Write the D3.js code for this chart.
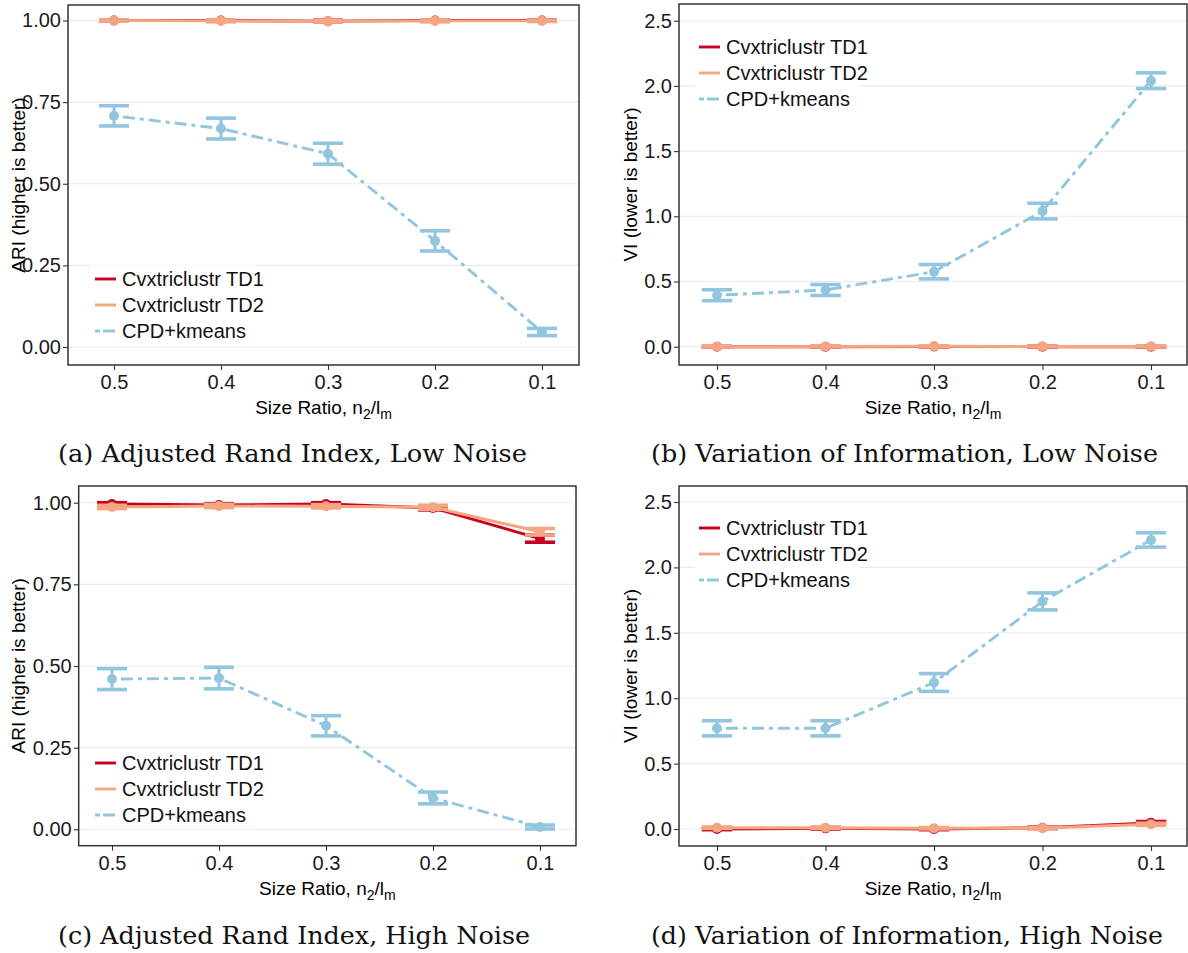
<!DOCTYPE html>
<html><head><meta charset="utf-8">
<script src="https://cdn.jsdelivr.net/npm/d3@7"></script>
<style>body{margin:0;background:#fff} svg{display:block}</style>
</head><body>
<svg id="chart" width="1188" height="953"></svg>
<script>
// ---------- data ----------
const sizeRatios = [0.5, 0.4, 0.3, 0.2, 0.1];
const xTickLabels = ["0.5", "0.4", "0.3", "0.2", "0.1"];
const seriesNames = ["Cvxtriclustr TD1", "Cvxtriclustr TD2", "CPD+kmeans"];
const seriesColors = ["#CA0020", "#F4A582", "#92C5DE"];

const ariTicks = [0, 0.25, 0.5, 0.75, 1.0];
const ariTickLabels = ["0.00", "0.25", "0.50", "0.75", "1.00"];
const viTicks = [0, 0.5, 1.0, 1.5, 2.0, 2.5];
const viTickLabels = ["0.0", "0.5", "1.0", "1.5", "2.0", "2.5"];

// (a) ARI, low noise : means and half-widths of error bars
const ariLowTD1 = [1.000, 1.000, 0.998, 1.000, 1.000];
const ariLowTD1Err = [0.001, 0.001, 0.003, 0.002, 0.001];
const ariLowTD2 = [1.000, 0.999, 0.998, 0.999, 0.999];
const ariLowTD2Err = [0.002, 0.003, 0.003, 0.003, 0.002];
const ariLowCPD = [0.708, 0.669, 0.592, 0.325, 0.046];
const ariLowCPDErr = [0.031, 0.032, 0.032, 0.031, 0.011];

// (b) VI, low noise
const viLowTD1 = [0.000, 0.000, 0.002, 0.000, 0.000];
const viLowTD1Err = [0.002, 0.002, 0.004, 0.003, 0.002];
const viLowTD2 = [0.000, 0.001, 0.003, 0.001, 0.001];
const viLowTD2Err = [0.003, 0.003, 0.004, 0.003, 0.003];
const viLowCPD = [0.395, 0.435, 0.575, 1.040, 2.040];
const viLowCPDErr = [0.042, 0.042, 0.055, 0.060, 0.060];

// (c) ARI, high noise
const ariHighTD1 = [0.996, 0.993, 0.996, 0.984, 0.890];
const ariHighTD1Err = [0.004, 0.004, 0.004, 0.006, 0.011];
const ariHighTD2 = [0.987, 0.990, 0.989, 0.986, 0.911];
const ariHighTD2Err = [0.005, 0.005, 0.005, 0.006, 0.010];
const ariHighCPD = [0.460, 0.463, 0.317, 0.096, 0.007];
const ariHighCPDErr = [0.032, 0.033, 0.031, 0.018, 0.006];

// (d) VI, high noise
const viHighTD1 = [0.000, 0.005, 0.000, 0.010, 0.047];
const viHighTD1Err = [0.005, 0.005, 0.005, 0.006, 0.010];
const viHighTD2 = [0.010, 0.010, 0.006, 0.008, 0.036];
const viHighTD2Err = [0.005, 0.005, 0.005, 0.006, 0.008];
const viHighCPD = [0.770, 0.770, 1.120, 1.740, 2.210];
const viHighCPDErr = [0.058, 0.058, 0.068, 0.065, 0.055];

const captions = [
  "(a) Adjusted Rand Index, Low Noise",
  "(b) Variation of Information, Low Noise",
  "(c) Adjusted Rand Index, High Noise",
  "(d) Variation of Information, High Noise"
];
const ariTitle = "ARI (higher is better)";
const viTitle = "VI (lower is better)";

// ---------- layout ----------
const svg = d3.select("#chart");
const SANS = "'Liberation Sans', Arial, Helvetica, sans-serif";
const SERIF = "'DejaVu Serif', serif";

const panels = [
  { box: [68, 579, 5, 365], xpx: [114, 542], ypx: [347, 20.5], ymax: 1.0,
    ticks: ariTicks, tickLabels: ariTickLabels, title: ariTitle, titleX: 18,
    means: [ariLowTD1, ariLowTD2, ariLowCPD], errs: [ariLowTD1Err, ariLowTD2Err, ariLowCPDErr],
    legend: [91, 279], caption: captions[0], cap: [58, 527, 453], tickY: 383, xTitleY: 408 },
  { box: [679, 1187, 4, 365], xpx: [717, 1151], ypx: [346.7, 20.7], ymax: 2.5,
    ticks: viTicks, tickLabels: viTickLabels, title: viTitle, titleX: 630,
    means: [viLowTD1, viLowTD2, viLowCPD], errs: [viLowTD1Err, viLowTD2Err, viLowCPDErr],
    legend: [695, 47], caption: captions[1], cap: [651, 1158, 453], tickY: 383, xTitleY: 408 },
  { box: [78.7, 576, 486, 845.7], xpx: [112, 540], ypx: [829.3, 502.7], ymax: 1.0,
    ticks: ariTicks, tickLabels: ariTickLabels, title: ariTitle, titleX: 18,
    means: [ariHighTD1, ariHighTD2, ariHighCPD], errs: [ariHighTD1Err, ariHighTD2Err, ariHighCPDErr],
    legend: [91, 763], caption: captions[2], cap: [58, 530, 935], tickY: 864, xTitleY: 889 },
  { box: [679, 1187, 486, 846], xpx: [717, 1151], ypx: [829, 502], ymax: 2.5,
    ticks: viTicks, tickLabels: viTickLabels, title: viTitle, titleX: 630,
    means: [viHighTD1, viHighTD2, viHighCPD], errs: [viHighTD1Err, viHighTD2Err, viHighCPDErr],
    legend: [695, 528], caption: captions[3], cap: [651, 1163, 935], tickY: 864, xTitleY: 889 }
];

const dashes = [null, null, "4,5,12,5"];

panels.forEach(p => {
  const [L, R, T, B] = p.box;
  const x = d3.scaleLinear().domain([sizeRatios[0], sizeRatios[4]]).range(p.xpx);
  const y = d3.scaleLinear().domain([0, p.ymax]).range(p.ypx);
  const g = svg.append("g");

  // panel background + grid
  g.append("rect").attr("x", L).attr("y", T).attr("width", R - L).attr("height", B - T).attr("fill", "#fff");
  g.selectAll("line.gy").data(p.ticks).enter().append("line")
    .attr("x1", L).attr("x2", R).attr("y1", d => y(d)).attr("y2", d => y(d))
    .attr("stroke", "#EBEBEB").attr("stroke-width", 1.1);

  // axes
  const yAxis = d3.axisLeft(y).tickValues(p.ticks).tickFormat((d, i) => p.tickLabels[i]).tickSize(5).tickPadding(2);
  const ya = g.append("g").attr("transform", `translate(${L},0)`).call(yAxis);
  const xAxis = d3.axisBottom(x).tickValues(sizeRatios).tickFormat((d, i) => xTickLabels[i]).tickSize(5).tickPadding(5);
  const xa = g.append("g").attr("transform", `translate(0,${B})`).call(xAxis);
  [ya, xa].forEach(a => {
    a.select(".domain").remove();
    a.selectAll(".tick line").attr("stroke", "#333").attr("stroke-width", 1.1);
    a.selectAll(".tick text").attr("fill", "#1a1a1a").style("font-family", SANS).style("font-size", "20px");
  });

  // series
  p.means.forEach((m, si) => {
    const e = p.errs[si];
    const col = seriesColors[si];
    const pts = sizeRatios.map((r, i) => ({ r, m: m[i], e: e[i] }));
    const sg = g.append("g");
    sg.append("path").datum(pts)
      .attr("d", d3.line().x(d => x(d.r)).y(d => y(d.m)))
      .attr("fill", "none").attr("stroke", col).attr("stroke-width", 2.9)
      .attr("stroke-dasharray", dashes[si]);
    const hw = (x(0.5) - x(0.4)) * 0.14;
    const eb = sg.selectAll("g.eb").data(pts).enter().append("g");
    eb.append("line").attr("x1", d => x(d.r)).attr("x2", d => x(d.r))
      .attr("y1", d => y(d.m - d.e)).attr("y2", d => y(d.m + d.e)).attr("stroke", col).attr("stroke-width", 3);
    eb.append("line").attr("x1", d => x(d.r) - hw).attr("x2", d => x(d.r) + hw)
      .attr("y1", d => y(d.m + d.e)).attr("y2", d => y(d.m + d.e)).attr("stroke", col).attr("stroke-width", 3.6);
    eb.append("line").attr("x1", d => x(d.r) - hw).attr("x2", d => x(d.r) + hw)
      .attr("y1", d => y(d.m - d.e)).attr("y2", d => y(d.m - d.e)).attr("stroke", col).attr("stroke-width", 3.6);
    sg.selectAll("circle").data(pts).enter().append("circle")
      .attr("cx", d => x(d.r)).attr("cy", d => y(d.m)).attr("r", 5).attr("fill", col);
  });

  // legend
  const [lx, ly] = p.legend;
  const lg = g.append("g");
  lg.append("rect").attr("x", lx).attr("y", ly - 14).attr("width", 165).attr("height", 2 * 26 + 28).attr("fill", "#fff");
  seriesNames.forEach((nm, i) => {
    const yy = ly + i * 26;
    lg.append("line").attr("x1", lx + 4).attr("x2", lx + 25).attr("y1", yy).attr("y2", yy)
      .attr("stroke", seriesColors[i]).attr("stroke-width", 2.9).attr("stroke-dasharray", dashes[i] ? "5,3,12,3" : null);
    lg.append("text").attr("x", lx + 31).attr("y", yy).attr("dy", "0.36em")
      .style("font-family", SANS).style("font-size", "20px").attr("fill", "#111").text(nm);
  });

  // border
  g.append("rect").attr("x", L).attr("y", T).attr("width", R - L).attr("height", B - T)
    .attr("fill", "none").attr("stroke", "#333").attr("stroke-width", 1.5);

  // y title
  g.append("text").attr("transform", `translate(${p.titleX},${(T + B) / 2}) rotate(-90)`)
    .attr("text-anchor", "middle").attr("dy", "0.36em")
    .style("font-family", SANS).style("font-size", "19px").attr("fill", "#000").text(p.title);

  // x title with subscripts
  const xt = g.append("text").attr("x", (L + R) / 2).attr("y", p.xTitleY).attr("dy", "0.3em")
    .attr("text-anchor", "middle").style("font-family", SANS).style("font-size", "19px").attr("fill", "#000");
  xt.append("tspan").text("Size Ratio, n");
  xt.append("tspan").attr("dy", 5).style("font-size", "14px").text("2");
  xt.append("tspan").attr("dy", -5).text("/l");
  xt.append("tspan").attr("dy", 5).style("font-size", "14px").text("m");

  // caption
  const [c0, c1, cy] = p.cap;
  g.append("text").attr("x", c0).attr("y", cy).attr("dy", "0.36em")
    .attr("textLength", c1 - c0).attr("lengthAdjust", "spacingAndGlyphs")
    .style("font-family", SERIF).style("font-size", "24px").attr("fill", "#111").text(p.caption);
});
</script>
</body></html>
